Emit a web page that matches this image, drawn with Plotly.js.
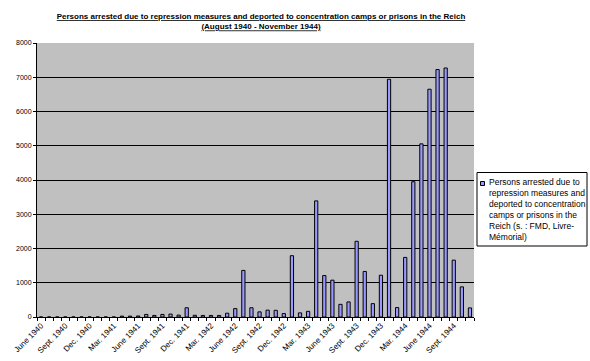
<!DOCTYPE html>
<html>
<head>
<meta charset="utf-8">
<script src="https://cdn.plot.ly/plotly-3.0.1.min.js"></script>
<style>
html,body{margin:0;padding:0;background:#fff;}
#chart{width:590px;height:361px;}
</style>
</head>
<body>
<div id="chart"></div>
<script>
// ---- data ----
const categories = [
  "June 1940","July 1940","Aug. 1940","Sept. 1940","Oct. 1940","Nov. 1940","Dec. 1940",
  "Jan. 1941","Feb. 1941","Mar. 1941","Apr. 1941","May 1941","June 1941","July 1941","Aug. 1941","Sept. 1941","Oct. 1941","Nov. 1941","Dec. 1941",
  "Jan. 1942","Feb. 1942","Mar. 1942","Apr. 1942","May 1942","June 1942","July 1942","Aug. 1942","Sept. 1942","Oct. 1942","Nov. 1942","Dec. 1942",
  "Jan. 1943","Feb. 1943","Mar. 1943","Apr. 1943","May 1943","June 1943","July 1943","Aug. 1943","Sept. 1943","Oct. 1943","Nov. 1943","Dec. 1943",
  "Jan. 1944","Feb. 1944","Mar. 1944","Apr. 1944","May 1944","June 1944","July 1944","Aug. 1944","Sept. 1944","Oct. 1944","Nov. 1944"
];
const arrests = [
  0,0,0,0,0,0,0,
  0,0,0,25,25,30,75,45,75,85,55,270,
  50,45,45,45,110,245,1360,270,150,200,195,100,
  1790,120,165,3390,1210,1075,370,440,2210,1330,390,1220,
  6940,275,1740,3950,5055,6650,7225,7270,1660,880,265
];
const shownTickLabels = [
  "June 1940","Sept. 1940","Dec. 1940","Mar. 1941","June 1941","Sept. 1941","Dec. 1941",
  "Mar. 1942","June 1942","Sept. 1942","Dec. 1942","Mar. 1943","June 1943","Sept. 1943",
  "Dec. 1943","Mar. 1944","June 1944","Sept. 1944"
];
const yTicks = [0,1000,2000,3000,4000,5000,6000,7000,8000];
const seriesName = "Persons arrested due to repression measures and deported to concentration camps or prisons in the Reich (s. : FMD, Livre-Mémorial)";
const seriesNameLines = ["Persons arrested due to","repression measures and","deported to concentration","camps or prisons in the","Reich (s. : FMD, Livre-","Mémorial)"];
const titleLines = ["Persons arrested due to repression measures and deported to concentration camps or prisons in the Reich","(August 1940 - November 1944)"];

// ---- layout geometry ----
const FW = 590, FH = 361;
const M = {l:37, r:116, t:43, b:44};
const PW = FW - M.l - M.r, PH = FH - M.t - M.b;
const px2x = px => (px - M.l) / PW;
const py2y = py => (FH - M.b - py) / PH;
const FONT = "Arial, 'Liberation Sans', sans-serif";

const trace = {
  type: 'bar',
  x: categories,
  y: arrests,
  name: seriesName,
  marker: {color: '#9999FF', line: {color: '#000000', width: 1}},
  showlegend: false,
  hoverinfo: 'x+y'
};

const layout = {
  width: FW, height: FH,
  margin: M,
  paper_bgcolor: '#ffffff',
  plot_bgcolor: '#C0C0C0',
  bargap: 0.6,
  font: {family: FONT, color: '#000', size: 7},
  title: {
    text: titleLines.map(t => '<u><b>' + t + '</b></u>').join('<br>'),
    font: {family: FONT, size: 8, color: '#000'},
    xref: 'container', x: 261/FW, xanchor: 'center',
    yref: 'container', y: 1 - 19/FH, yanchor: 'top'
  },
  xaxis: {
    type: 'category',
    range: [-0.5, categories.length - 0.5],
    tickmode: 'array',
    tickvals: categories,
    ticktext: categories.map(c => shownTickLabels.includes(c) ? c : ''),
    tickson: 'boundaries',
    ticks: 'outside', ticklen: 3, tickcolor: '#000', tickwidth: 1,
    tickangle: -45,
    tickfont: {family: FONT, size: 8, color: '#000'},
    showline: true, linecolor: '#000', linewidth: 1,
    showgrid: false, zeroline: false, fixedrange: true
  },
  yaxis: {
    range: [0, 8000],
    tickmode: 'array', tickvals: yTicks, ticktext: yTicks.map(String),
    ticks: 'outside', ticklen: 3, tickcolor: '#000', tickwidth: 1,
    tickfont: {family: FONT, size: 7, color: '#000'},
    showline: true, linecolor: '#000', linewidth: 1,
    showgrid: true, gridcolor: '#000', gridwidth: 1,
    zeroline: false, fixedrange: true
  },
  shapes: [
    {type: 'rect', xref: 'paper', yref: 'paper',
     x0: px2x(477), x1: px2x(587), y0: py2y(246), y1: py2y(172.5),
     line: {color: '#000', width: 1}, fillcolor: '#ffffff', layer: 'above'},
    {type: 'rect', xref: 'paper', yref: 'paper',
     x0: px2x(480.5), x1: px2x(484.5), y0: py2y(185.5), y1: py2y(181.5),
     line: {color: '#000', width: 1}, fillcolor: '#9999FF', layer: 'above'}
  ],
  annotations: [
    {xref: 'paper', yref: 'paper', x: px2x(486.5), y: py2y(209.5),
     xanchor: 'left', yanchor: 'middle', align: 'left', showarrow: false,
     text: seriesNameLines.join('<br>'),
     font: {family: FONT, size: 8.5, color: '#000'}}
  ]
};

Plotly.newPlot('chart', [trace], layout, {displayModeBar: false, staticPlot: true});
</script>
</body>
</html>
